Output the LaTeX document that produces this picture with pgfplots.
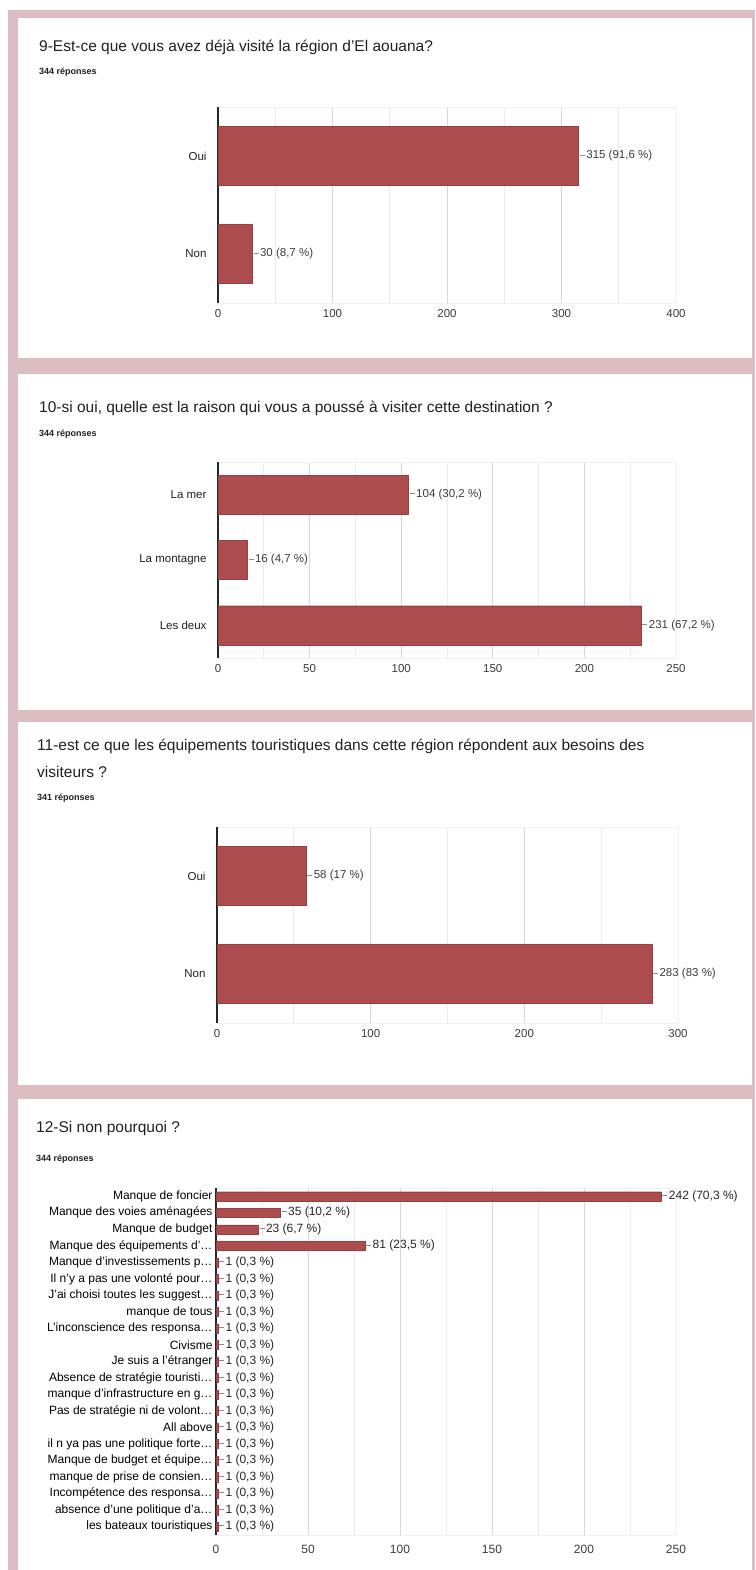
\documentclass[border=0pt]{standalone}
\usepackage{pgfplots}
\pgfplotsset{compat=1.18}
\usepackage{fontspec}
\setmainfont{Liberation Sans}
\definecolor{pinkbg}{HTML}{DCBEC2}
\definecolor{barred}{HTML}{AC4C4E}
\definecolor{baredge}{HTML}{98403F}
\definecolor{txt}{HTML}{202124}
\definecolor{lbl}{HTML}{3C3C3C}
\pgfplotsset{
  formsbar/.style={
    xbar, scale only axis, y dir=reverse,
    axis line style={draw=black!6},
    major tick length=0pt, minor tick length=0pt,
    xmajorgrids, xminorgrids, minor x tick num=1,
    major grid style={draw=black!16, line width=0.7pt},
    minor grid style={draw=black!8, line width=0.7pt},
    xmin=0,
    extra x ticks={0}, extra x tick labels={},
    extra x tick style={grid=major, major grid style={draw=black!85, line width=1.1pt}},
    ytick=data,
    ticklabel style={font=\fontsize{11.5}{12}\selectfont, text=lbl},
    xticklabel style={yshift=-3pt},
    yticklabel style={xshift=-8pt, text=txt},
    point meta=explicit symbolic,
    nodes near coords={\textcolor{black!45}{\rule[0.32em]{5pt}{0.6pt}}\hspace{1.5pt}\pgfplotspointmeta},
    nodes near coords style={anchor=west, inner sep=1pt, font=\fontsize{11.5}{12}\selectfont, text=lbl},
    clip=false,
    /pgf/number format/assume math mode=true,
  },
  redbar/.style={fill=barred, draw=baredge, line width=0.4pt}
}
\begin{document}
\begin{tikzpicture}
\path[use as bounding box] (0,0) rectangle (755pt,-1570pt);
\fill[white] (0,0) rectangle (755pt,-1570pt);
\fill[pinkbg] (8pt,-10pt) rectangle (755pt,-1570pt);
\fill[white] (18pt,-18pt) rectangle (752pt,-358pt);
\fill[white] (18pt,-374pt) rectangle (752pt,-710pt);
\fill[white] (18pt,-722pt) rectangle (752pt,-1085pt);
\fill[white] (18pt,-1099pt) rectangle (752pt,-1570pt);

\tikzset{ttl/.style={anchor=base west, inner sep=0pt, font=\fontsize{15.5}{17}\selectfont, text=txt},
         rep/.style={anchor=base west, inner sep=0pt, font=\bfseries\fontsize{9}{10}\selectfont, text=txt}}
\node[ttl] at (39pt,-52pt) {9-Est-ce que vous avez déjà visité la région d'El aouana?};
\node[rep] at (39pt,-75pt) {344 réponses};
\node[ttl] at (39pt,-412pt) {10-si oui, quelle est la raison qui vous a poussé à visiter cette destination ?};
\node[rep] at (39pt,-436pt) {344 réponses};
\node[ttl] at (37pt,-750pt) {11-est ce que les équipements touristiques dans cette région répondent aux besoins des};
\node[ttl] at (37pt,-777pt) {visiteurs ?};
\node[rep] at (37pt,-800pt) {341 réponses};
\node[ttl] at (36pt,-1132pt) {12-Si non pourquoi ?};
\node[rep] at (36pt,-1161pt) {344 réponses};

% Chart 1
\begin{axis}[formsbar, at={(218pt,-303pt)}, anchor=south west, width=458pt, height=196pt,
  xmax=400, xtick={0,100,...,400}, ymin=-0.5, ymax=1.5, yticklabels={Oui,Non}, bar width=0.6]
\addplot[redbar] coordinates {(315,0) [315 (91,6 \%)] (30,1) [30 (8,7 \%)]};
\end{axis}

% Chart 2
\begin{axis}[formsbar, at={(218pt,-658pt)}, anchor=south west, width=458pt, height=196pt,
  xmax=250, xtick={0,50,...,250}, ymin=-0.5, ymax=2.5, yticklabels={La mer,La montagne,Les deux}, bar width=0.6]
\addplot[redbar] coordinates {(104,0) [104 (30,2 \%)] (16,1) [16 (4,7 \%)] (231,2) [231 (67,2 \%)]};
\end{axis}

% Chart 3
\begin{axis}[formsbar, at={(217pt,-1023pt)}, anchor=south west, width=461pt, height=196pt,
  xmax=300, xtick={0,100,...,300}, ymin=-0.5, ymax=1.5, yticklabels={Oui,Non}, bar width=0.6]
\addplot[redbar] coordinates {(58,0) [58 (17 \%)] (283,1) [283 (83 \%)]};
\end{axis}

% Chart 4
\begin{axis}[formsbar, at={(216pt,-1535pt)}, anchor=south west, width=460pt, height=347pt,
  xmax=250, xtick={0,50,...,250}, ymin=-0.5, ymax=20.5, bar width=0.55,
  ticklabel style={font=\fontsize{12}{13}\selectfont},
  yticklabel style={xshift=8pt, text=black},
  nodes near coords style={font=\fontsize{12}{13}\selectfont, text=black!85},
  xticklabel style={yshift=-4pt},
  yticklabels={Manque de foncier, Manque des voies aménagées, Manque de budget, Manque des équipements d'…, Manque d'investissements p…, Il n'y a pas une volonté pour…, J'ai choisi toutes les suggest…, manque de tous, L'inconscience des responsa…, Civisme, Je suis a l'étranger, Absence de stratégie touristi…, manque d'infrastructure en g…, Pas de stratégie ni de volont…, All above, il n ya pas une politique forte…, Manque de budget et équipe…, manque de prise de consien…, Incompétence des responsa…, absence d'une politique d'a…, les bateaux touristiques}]
\addplot[redbar] coordinates {(242,0) [242 (70,3 \%)] (35,1) [35 (10,2 \%)] (23,2) [23 (6,7 \%)] (81,3) [81 (23,5 \%)]
 (1,4) [1 (0,3 \%)] (1,5) [1 (0,3 \%)] (1,6) [1 (0,3 \%)] (1,7) [1 (0,3 \%)] (1,8) [1 (0,3 \%)]
 (1,9) [1 (0,3 \%)] (1,10) [1 (0,3 \%)] (1,11) [1 (0,3 \%)] (1,12) [1 (0,3 \%)] (1,13) [1 (0,3 \%)]
 (1,14) [1 (0,3 \%)] (1,15) [1 (0,3 \%)] (1,16) [1 (0,3 \%)] (1,17) [1 (0,3 \%)] (1,18) [1 (0,3 \%)]
 (1,19) [1 (0,3 \%)] (1,20) [1 (0,3 \%)]};
\end{axis}
\end{tikzpicture}
\end{document}
